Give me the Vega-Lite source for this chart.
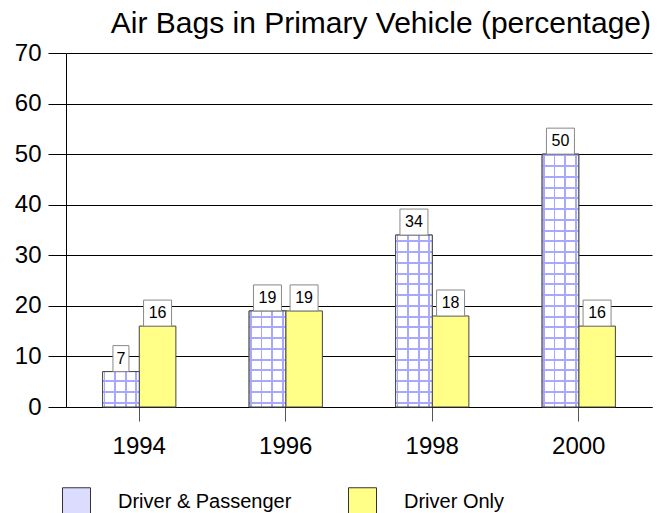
{
  "$schema": "https://vega.github.io/schema/vega-lite/v6.json",
  "autosize": "none",
  "padding": {"left": 66, "top": 53, "right": 10, "bottom": 106},
  "width": 586,
  "height": 354,
  "background": "white",
  "config": {
    "view": {"stroke": null},
    "font": "Liberation Sans"
  },
  "title": {
    "text": "Air Bags in Primary Vehicle (percentage)",
    "anchor": "end",
    "font": "Liberation Sans",
    "fontSize": 30,
    "fontWeight": "normal",
    "color": "#000",
    "offset": 2,
    "dx": -1
  },
  "data": {
    "values": [
      {"year": "1994", "series": "Driver & Passenger", "value": 7},
      {"year": "1994", "series": "Driver Only", "value": 16},
      {"year": "1996", "series": "Driver & Passenger", "value": 19},
      {"year": "1996", "series": "Driver Only", "value": 19},
      {"year": "1998", "series": "Driver & Passenger", "value": 34},
      {"year": "1998", "series": "Driver Only", "value": 18},
      {"year": "2000", "series": "Driver & Passenger", "value": 50},
      {"year": "2000", "series": "Driver Only", "value": 16}
    ]
  },
  "encoding": {
    "x": {
      "field": "year",
      "type": "nominal",
      "scale": {"paddingInner": 0.5, "paddingOuter": 0.25},
      "axis": {
        "title": null,
        "labelAngle": 0,
        "labelFont": "Liberation Sans",
        "labelFontSize": 24,
        "labelColor": "#000",
        "labelPadding": 13,
        "tickSize": 14,
        "tickColor": "#555",
        "domainColor": "#000"
      }
    },
    "xOffset": {
      "field": "series",
      "type": "nominal",
      "scale": {"domain": ["Driver & Passenger", "Driver Only"], "paddingInner": 0, "paddingOuter": 0}
    },
    "y": {
      "field": "value",
      "type": "quantitative",
      "scale": {"domain": [0, 70], "nice": false},
      "axis": {
        "title": null,
        "values": [0, 10, 20, 30, 40, 50, 60, 70],
        "labelFont": "Liberation Sans",
        "labelFontSize": 24,
        "labelColor": "#000",
        "labelPadding": 7,
        "tickSize": 18,
        "tickColor": "#000",
        "domainColor": "#000",
        "grid": true,
        "gridColor": "#000",
        "gridOpacity": 1
      }
    }
  },
  "layer": [
    {
      "mark": {"type": "bar", "stroke": "#444", "strokeWidth": 1},
      "encoding": {
        "fill": {
          "field": "series",
          "type": "nominal",
          "scale": {"domain": ["Driver & Passenger", "Driver Only"], "range": ["#dcdcff", "#ffff88"]},
          "legend": {
            "title": null,
            "orient": "none",
            "direction": "horizontal",
            "columns": 2,
            "legendX": -4,
            "legendY": 434,
            "padding": 0,
            "symbolType": "square",
            "symbolSize": 784,
            "symbolStrokeColor": "#333",
            "symbolStrokeWidth": 1,
            "labelFont": "Liberation Sans",
            "labelFontSize": 20,
            "labelColor": "#000",
            "labelOffset": 27,
            "columnPadding": 54,
            "labelLimit": 400
          }
        }
      }
    },
    {
      "transform": [{"filter": "datum.series === 'Driver & Passenger'"}],
      "mark": {
        "type": "bar",
        "fill": {
          "gradient": "linear", "x1": 0, "y1": 0, "x2": 1, "y2": 0,
          "stops": [
            {"offset": 0, "color": "#ffffff"}, {"offset": 0.025, "color": "#ffffff"},
            {"offset": 0.025, "color": "#a8a8ff"}, {"offset": 0.075, "color": "#a8a8ff"},
            {"offset": 0.075, "color": "#ffffff"}, {"offset": 0.315, "color": "#ffffff"},
            {"offset": 0.315, "color": "#a8a8ff"}, {"offset": 0.365, "color": "#a8a8ff"},
            {"offset": 0.365, "color": "#ffffff"}, {"offset": 0.605, "color": "#ffffff"},
            {"offset": 0.605, "color": "#a8a8ff"}, {"offset": 0.655, "color": "#a8a8ff"},
            {"offset": 0.655, "color": "#ffffff"}, {"offset": 0.895, "color": "#ffffff"},
            {"offset": 0.895, "color": "#a8a8ff"}, {"offset": 0.945, "color": "#a8a8ff"},
            {"offset": 0.945, "color": "#ffffff"}, {"offset": 1, "color": "#ffffff"}
          ]
        }
      }
    },
    {
      "transform": [{"filter": "datum.series === 'Driver & Passenger'"}],
      "mark": {"type": "bar", "stroke": "#444", "strokeWidth": 1},
      "encoding": {
        "fill": {
          "condition": [
            {
              "test": "datum.year === '1994'",
              "value": {
                "gradient": "linear", "x1": 0, "y1": 0, "x2": 0, "y2": 1,
                "stops": [
                  {"offset": 0, "color": "rgba(168,168,255,0)"},
                  {"offset": 0.243, "color": "rgba(168,168,255,0)"}, {"offset": 0.243, "color": "#a8a8ff"}, {"offset": 0.299, "color": "#a8a8ff"}, {"offset": 0.299, "color": "rgba(168,168,255,0)"},
                  {"offset": 0.547, "color": "rgba(168,168,255,0)"}, {"offset": 0.547, "color": "#a8a8ff"}, {"offset": 0.603, "color": "#a8a8ff"}, {"offset": 0.603, "color": "rgba(168,168,255,0)"},
                  {"offset": 0.851, "color": "rgba(168,168,255,0)"}, {"offset": 0.851, "color": "#a8a8ff"}, {"offset": 0.907, "color": "#a8a8ff"}, {"offset": 0.907, "color": "rgba(168,168,255,0)"},
                  {"offset": 1, "color": "rgba(168,168,255,0)"}
                ]
              }
            },
            {
              "test": "datum.year === '1996'",
              "value": {
                "gradient": "linear", "x1": 0, "y1": 0, "x2": 0, "y2": 1,
                "stops": [
                  {"offset": 0, "color": "rgba(168,168,255,0)"},
                  {"offset": 0.0496, "color": "rgba(168,168,255,0)"}, {"offset": 0.0496, "color": "#a8a8ff"}, {"offset": 0.0704, "color": "#a8a8ff"}, {"offset": 0.0704, "color": "rgba(168,168,255,0)"},
                  {"offset": 0.1616, "color": "rgba(168,168,255,0)"}, {"offset": 0.1616, "color": "#a8a8ff"}, {"offset": 0.1824, "color": "#a8a8ff"}, {"offset": 0.1824, "color": "rgba(168,168,255,0)"},
                  {"offset": 0.2736, "color": "rgba(168,168,255,0)"}, {"offset": 0.2736, "color": "#a8a8ff"}, {"offset": 0.2944, "color": "#a8a8ff"}, {"offset": 0.2944, "color": "rgba(168,168,255,0)"},
                  {"offset": 0.3856, "color": "rgba(168,168,255,0)"}, {"offset": 0.3856, "color": "#a8a8ff"}, {"offset": 0.4064, "color": "#a8a8ff"}, {"offset": 0.4064, "color": "rgba(168,168,255,0)"},
                  {"offset": 0.4976, "color": "rgba(168,168,255,0)"}, {"offset": 0.4976, "color": "#a8a8ff"}, {"offset": 0.5184, "color": "#a8a8ff"}, {"offset": 0.5184, "color": "rgba(168,168,255,0)"},
                  {"offset": 0.6096, "color": "rgba(168,168,255,0)"}, {"offset": 0.6096, "color": "#a8a8ff"}, {"offset": 0.6304, "color": "#a8a8ff"}, {"offset": 0.6304, "color": "rgba(168,168,255,0)"},
                  {"offset": 0.7216, "color": "rgba(168,168,255,0)"}, {"offset": 0.7216, "color": "#a8a8ff"}, {"offset": 0.7424, "color": "#a8a8ff"}, {"offset": 0.7424, "color": "rgba(168,168,255,0)"},
                  {"offset": 0.8326, "color": "rgba(168,168,255,0)"}, {"offset": 0.8326, "color": "#a8a8ff"}, {"offset": 0.8534, "color": "#a8a8ff"}, {"offset": 0.8534, "color": "rgba(168,168,255,0)"},
                  {"offset": 0.9446, "color": "rgba(168,168,255,0)"}, {"offset": 0.9446, "color": "#a8a8ff"}, {"offset": 0.9654, "color": "#a8a8ff"}, {"offset": 0.9654, "color": "rgba(168,168,255,0)"},
                  {"offset": 1, "color": "rgba(168,168,255,0)"}
                ]
              }
            },
            {
              "test": "datum.year === '1998'",
              "value": {
                "gradient": "linear", "x1": 0, "y1": 0, "x2": 0, "y2": 1,
                "stops": [
                  {"offset": 0, "color": "rgba(168,168,255,0)"},
                  {"offset": 0.0314, "color": "rgba(168,168,255,0)"}, {"offset": 0.0314, "color": "#a8a8ff"}, {"offset": 0.043, "color": "#a8a8ff"}, {"offset": 0.043, "color": "rgba(168,168,255,0)"},
                  {"offset": 0.0939, "color": "rgba(168,168,255,0)"}, {"offset": 0.0939, "color": "#a8a8ff"}, {"offset": 0.1055, "color": "#a8a8ff"}, {"offset": 0.1055, "color": "rgba(168,168,255,0)"},
                  {"offset": 0.1564, "color": "rgba(168,168,255,0)"}, {"offset": 0.1564, "color": "#a8a8ff"}, {"offset": 0.168, "color": "#a8a8ff"}, {"offset": 0.168, "color": "rgba(168,168,255,0)"},
                  {"offset": 0.2189, "color": "rgba(168,168,255,0)"}, {"offset": 0.2189, "color": "#a8a8ff"}, {"offset": 0.2305, "color": "#a8a8ff"}, {"offset": 0.2305, "color": "rgba(168,168,255,0)"},
                  {"offset": 0.2815, "color": "rgba(168,168,255,0)"}, {"offset": 0.2815, "color": "#a8a8ff"}, {"offset": 0.2931, "color": "#a8a8ff"}, {"offset": 0.2931, "color": "rgba(168,168,255,0)"},
                  {"offset": 0.344, "color": "rgba(168,168,255,0)"}, {"offset": 0.344, "color": "#a8a8ff"}, {"offset": 0.3556, "color": "#a8a8ff"}, {"offset": 0.3556, "color": "rgba(168,168,255,0)"},
                  {"offset": 0.4065, "color": "rgba(168,168,255,0)"}, {"offset": 0.4065, "color": "#a8a8ff"}, {"offset": 0.4181, "color": "#a8a8ff"}, {"offset": 0.4181, "color": "rgba(168,168,255,0)"},
                  {"offset": 0.469, "color": "rgba(168,168,255,0)"}, {"offset": 0.469, "color": "#a8a8ff"}, {"offset": 0.4806, "color": "#a8a8ff"}, {"offset": 0.4806, "color": "rgba(168,168,255,0)"},
                  {"offset": 0.5315, "color": "rgba(168,168,255,0)"}, {"offset": 0.5315, "color": "#a8a8ff"}, {"offset": 0.5431, "color": "#a8a8ff"}, {"offset": 0.5431, "color": "rgba(168,168,255,0)"},
                  {"offset": 0.5941, "color": "rgba(168,168,255,0)"}, {"offset": 0.5941, "color": "#a8a8ff"}, {"offset": 0.6057, "color": "#a8a8ff"}, {"offset": 0.6057, "color": "rgba(168,168,255,0)"},
                  {"offset": 0.6566, "color": "rgba(168,168,255,0)"}, {"offset": 0.6566, "color": "#a8a8ff"}, {"offset": 0.6682, "color": "#a8a8ff"}, {"offset": 0.6682, "color": "rgba(168,168,255,0)"},
                  {"offset": 0.7191, "color": "rgba(168,168,255,0)"}, {"offset": 0.7191, "color": "#a8a8ff"}, {"offset": 0.7307, "color": "#a8a8ff"}, {"offset": 0.7307, "color": "rgba(168,168,255,0)"},
                  {"offset": 0.7816, "color": "rgba(168,168,255,0)"}, {"offset": 0.7816, "color": "#a8a8ff"}, {"offset": 0.7932, "color": "#a8a8ff"}, {"offset": 0.7932, "color": "rgba(168,168,255,0)"},
                  {"offset": 0.8442, "color": "rgba(168,168,255,0)"}, {"offset": 0.8442, "color": "#a8a8ff"}, {"offset": 0.8558, "color": "#a8a8ff"}, {"offset": 0.8558, "color": "rgba(168,168,255,0)"},
                  {"offset": 0.9067, "color": "rgba(168,168,255,0)"}, {"offset": 0.9067, "color": "#a8a8ff"}, {"offset": 0.9183, "color": "#a8a8ff"}, {"offset": 0.9183, "color": "rgba(168,168,255,0)"},
                  {"offset": 0.9692, "color": "rgba(168,168,255,0)"}, {"offset": 0.9692, "color": "#a8a8ff"}, {"offset": 0.9808, "color": "#a8a8ff"}, {"offset": 0.9808, "color": "rgba(168,168,255,0)"},
                  {"offset": 1, "color": "rgba(168,168,255,0)"}
                ]
              }
            },
            {
              "test": "datum.year === '2000'",
              "value": {
                "gradient": "linear", "x1": 0, "y1": 0, "x2": 0, "y2": 1,
                "stops": [
                  {"offset": 0, "color": "rgba(168,168,255,0)"},
                  {"offset": 0.0013, "color": "rgba(168,168,255,0)"}, {"offset": 0.0013, "color": "#a8a8ff"}, {"offset": 0.0093, "color": "#a8a8ff"}, {"offset": 0.0093, "color": "rgba(168,168,255,0)"},
                  {"offset": 0.0438, "color": "rgba(168,168,255,0)"}, {"offset": 0.0438, "color": "#a8a8ff"}, {"offset": 0.0518, "color": "#a8a8ff"}, {"offset": 0.0518, "color": "rgba(168,168,255,0)"},
                  {"offset": 0.0863, "color": "rgba(168,168,255,0)"}, {"offset": 0.0863, "color": "#a8a8ff"}, {"offset": 0.0943, "color": "#a8a8ff"}, {"offset": 0.0943, "color": "rgba(168,168,255,0)"},
                  {"offset": 0.1288, "color": "rgba(168,168,255,0)"}, {"offset": 0.1288, "color": "#a8a8ff"}, {"offset": 0.1368, "color": "#a8a8ff"}, {"offset": 0.1368, "color": "rgba(168,168,255,0)"},
                  {"offset": 0.1713, "color": "rgba(168,168,255,0)"}, {"offset": 0.1713, "color": "#a8a8ff"}, {"offset": 0.1793, "color": "#a8a8ff"}, {"offset": 0.1793, "color": "rgba(168,168,255,0)"},
                  {"offset": 0.2138, "color": "rgba(168,168,255,0)"}, {"offset": 0.2138, "color": "#a8a8ff"}, {"offset": 0.2218, "color": "#a8a8ff"}, {"offset": 0.2218, "color": "rgba(168,168,255,0)"},
                  {"offset": 0.2563, "color": "rgba(168,168,255,0)"}, {"offset": 0.2563, "color": "#a8a8ff"}, {"offset": 0.2643, "color": "#a8a8ff"}, {"offset": 0.2643, "color": "rgba(168,168,255,0)"},
                  {"offset": 0.2988, "color": "rgba(168,168,255,0)"}, {"offset": 0.2988, "color": "#a8a8ff"}, {"offset": 0.3068, "color": "#a8a8ff"}, {"offset": 0.3068, "color": "rgba(168,168,255,0)"},
                  {"offset": 0.3414, "color": "rgba(168,168,255,0)"}, {"offset": 0.3414, "color": "#a8a8ff"}, {"offset": 0.3494, "color": "#a8a8ff"}, {"offset": 0.3494, "color": "rgba(168,168,255,0)"},
                  {"offset": 0.3839, "color": "rgba(168,168,255,0)"}, {"offset": 0.3839, "color": "#a8a8ff"}, {"offset": 0.3919, "color": "#a8a8ff"}, {"offset": 0.3919, "color": "rgba(168,168,255,0)"},
                  {"offset": 0.4264, "color": "rgba(168,168,255,0)"}, {"offset": 0.4264, "color": "#a8a8ff"}, {"offset": 0.4344, "color": "#a8a8ff"}, {"offset": 0.4344, "color": "rgba(168,168,255,0)"},
                  {"offset": 0.4689, "color": "rgba(168,168,255,0)"}, {"offset": 0.4689, "color": "#a8a8ff"}, {"offset": 0.4769, "color": "#a8a8ff"}, {"offset": 0.4769, "color": "rgba(168,168,255,0)"},
                  {"offset": 0.5114, "color": "rgba(168,168,255,0)"}, {"offset": 0.5114, "color": "#a8a8ff"}, {"offset": 0.5194, "color": "#a8a8ff"}, {"offset": 0.5194, "color": "rgba(168,168,255,0)"},
                  {"offset": 0.5539, "color": "rgba(168,168,255,0)"}, {"offset": 0.5539, "color": "#a8a8ff"}, {"offset": 0.5619, "color": "#a8a8ff"}, {"offset": 0.5619, "color": "rgba(168,168,255,0)"},
                  {"offset": 0.5964, "color": "rgba(168,168,255,0)"}, {"offset": 0.5964, "color": "#a8a8ff"}, {"offset": 0.6044, "color": "#a8a8ff"}, {"offset": 0.6044, "color": "rgba(168,168,255,0)"},
                  {"offset": 0.6389, "color": "rgba(168,168,255,0)"}, {"offset": 0.6389, "color": "#a8a8ff"}, {"offset": 0.6469, "color": "#a8a8ff"}, {"offset": 0.6469, "color": "rgba(168,168,255,0)"},
                  {"offset": 0.6814, "color": "rgba(168,168,255,0)"}, {"offset": 0.6814, "color": "#a8a8ff"}, {"offset": 0.6894, "color": "#a8a8ff"}, {"offset": 0.6894, "color": "rgba(168,168,255,0)"},
                  {"offset": 0.7239, "color": "rgba(168,168,255,0)"}, {"offset": 0.7239, "color": "#a8a8ff"}, {"offset": 0.7319, "color": "#a8a8ff"}, {"offset": 0.7319, "color": "rgba(168,168,255,0)"},
                  {"offset": 0.7664, "color": "rgba(168,168,255,0)"}, {"offset": 0.7664, "color": "#a8a8ff"}, {"offset": 0.7744, "color": "#a8a8ff"}, {"offset": 0.7744, "color": "rgba(168,168,255,0)"},
                  {"offset": 0.809, "color": "rgba(168,168,255,0)"}, {"offset": 0.809, "color": "#a8a8ff"}, {"offset": 0.817, "color": "#a8a8ff"}, {"offset": 0.817, "color": "rgba(168,168,255,0)"},
                  {"offset": 0.8515, "color": "rgba(168,168,255,0)"}, {"offset": 0.8515, "color": "#a8a8ff"}, {"offset": 0.8595, "color": "#a8a8ff"}, {"offset": 0.8595, "color": "rgba(168,168,255,0)"},
                  {"offset": 0.894, "color": "rgba(168,168,255,0)"}, {"offset": 0.894, "color": "#a8a8ff"}, {"offset": 0.902, "color": "#a8a8ff"}, {"offset": 0.902, "color": "rgba(168,168,255,0)"},
                  {"offset": 0.9365, "color": "rgba(168,168,255,0)"}, {"offset": 0.9365, "color": "#a8a8ff"}, {"offset": 0.9445, "color": "#a8a8ff"}, {"offset": 0.9445, "color": "rgba(168,168,255,0)"},
                  {"offset": 0.979, "color": "rgba(168,168,255,0)"}, {"offset": 0.979, "color": "#a8a8ff"}, {"offset": 0.987, "color": "#a8a8ff"}, {"offset": 0.987, "color": "rgba(168,168,255,0)"},
                  {"offset": 1, "color": "rgba(168,168,255,0)"}
                ]
              }
            }
          ],
          "value": "rgba(168,168,255,0)"
        }
      }
    },
    {
      "mark": {
        "type": "point",
        "filled": true,
        "fill": "#ffffff",
        "stroke": "#888888",
        "strokeWidth": 1,
        "opacity": 1,
        "size": 400,
        "yOffset": -13
      },
      "encoding": {
        "shape": {
          "condition": {"test": "datum.value < 10", "value": "M-0.8,-1.3H0.8V1.3H-0.8Z"},
          "value": "M-1.4,-1.3H1.4V1.3H-1.4Z"
        }
      }
    },
    {
      "mark": {
        "type": "text",
        "font": "Liberation Sans",
        "fontSize": 16,
        "color": "#000",
        "baseline": "middle",
        "align": "center",
        "dy": -13
      },
      "encoding": {
        "text": {"field": "value", "type": "quantitative"}
      }
    }
  ]
}
